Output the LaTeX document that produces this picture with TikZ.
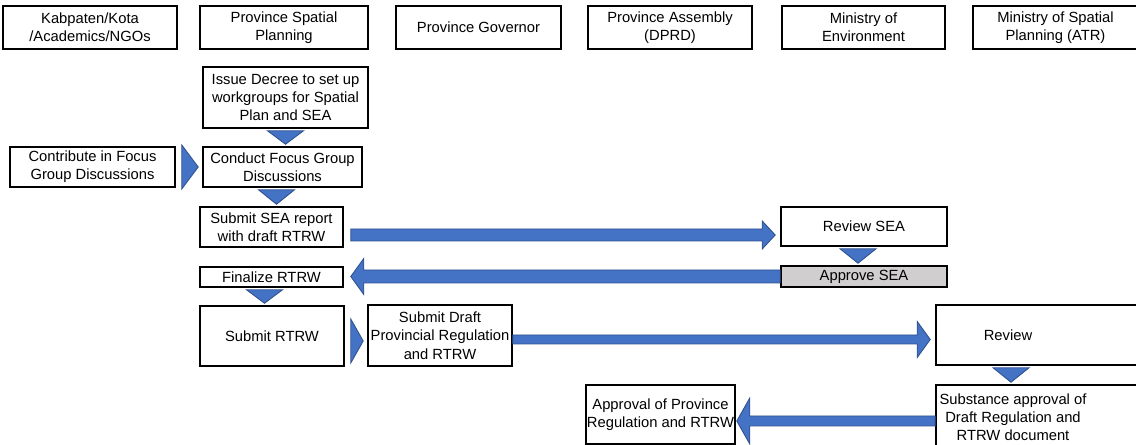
\documentclass[tikz,border=0pt]{standalone}
\usepackage{fontspec}
\setmainfont{Liberation Sans}
\usetikzlibrary{calc}
\definecolor{arrowblue}{HTML}{4472C4}
\definecolor{arrowedge}{HTML}{2F528F}
\definecolor{approvegray}{HTML}{D0CECE}
\newcommand\boxfont{\fontsize{8.4}{10.4}\selectfont}

% horizontal block arrow: tail, tip, half shaft, half head
\newcommand\blockarrow[4]{%
  \filldraw[blockarr] let \p1=(#1), \p2=(#2), \n1={sign(\x2-\x1)} in
    (\x1,\y1-#3) -- (\x2-\n1*0.26cm,\y1-#3) -- (\x2-\n1*0.26cm,\y1-#4)
    -- (\x2,\y1) -- (\x2-\n1*0.26cm,\y1+#4) -- (\x2-\n1*0.26cm,\y1+#3)
    -- (\x1,\y1+#3) -- cycle;}
% small triangles between two stacked / side-by-side boxes
\newcommand\downchev[2]{%
  \filldraw[chev] let \p1=(#1), \p2=(#2) in
    (\x1-0.36cm,\y1-0.04cm) -- (\x1+0.36cm,\y1-0.04cm) -- (\x1,\y2+0.04cm) -- cycle;}
\newcommand\rightchev[2]{%
  \filldraw[chev] let \p1=(#1), \p2=(#2) in
    (\x1+0.12cm,\y1+0.44cm) -- (\x1+0.12cm,\y1-0.44cm) -- (\x2-0.08cm,\y1) -- cycle;}

\begin{document}
\begin{tikzpicture}[x=0.02cm, y=-0.02cm,
  lane/.style    ={draw, line width=0.9pt, minimum width=3.3cm,
                   minimum height=0.86cm, inner sep=0pt,
                   align=center, font=\boxfont},
  stepbox/.style ={draw, line width=0.9pt, inner sep=0pt,
                   align=center, font=\boxfont},
  blockarr/.style={fill=arrowblue, draw=arrowedge, line width=0.5pt},
  chev/.style    ={fill=arrowblue, draw=arrowedge, line width=0.5pt}
]
  \useasboundingbox (0,0) rectangle (1136,445);

  % lanes
  \node[lane, minimum width=3.48cm] (kab) at (90,27.5)    {Kabpaten/Kota\\/Academics/NGOs};
  \node[lane, minimum width=3.36cm] (psp) at (284,27.5)   {Province Spatial\\Planning};
  \node[lane]                       (gov) at (478.5,27.5) {Province Governor};
  \node[lane, minimum width=3.28cm] (dprd) at (670,27.5)  {Province Assembly\\(DPRD)};
  \node[lane, minimum width=3.26cm] (moe) at (863.5,27.5) {Ministry of\\Environment};
  \node[lane]                       (atr) at (1055.5,27.5){Ministry of Spatial\\Planning (ATR)};

  % steps
  \node[stepbox, minimum width=3.3cm, minimum height=1.22cm] (decree) at (285.5,97.5)
    {Issue Decree to set up\\workgroups for Spatial\\Plan and SEA};
  \node[stepbox, minimum width=3.3cm, minimum height=0.8cm] (contrib) at (92.5,167)
    {Contribute in Focus\\Group Discussions};
  \node[stepbox, minimum width=3.18cm, minimum height=0.8cm] (fgd) at (282.5,167)
    {Conduct Focus Group\\Discussions};
  \node[stepbox, minimum width=2.86cm, minimum height=0.8cm] (submitsea) at (271.5,227)
    {Submit SEA report\\with draft RTRW};
  \node[stepbox, minimum width=3.32cm, minimum height=0.78cm] (reviewsea) at (864,226.5)
    {Review SEA};
  \node[stepbox, fill=approvegray, minimum width=3.32cm, minimum height=0.42cm] (approvesea) at (864,276.5)
    {Approve SEA};
  \node[stepbox, minimum width=2.86cm, minimum height=0.4cm] (finalize) at (271.5,277)
    {Finalize RTRW};
  \node[stepbox, minimum width=2.88cm, minimum height=1.2cm] (submitrtrw) at (272,336)
    {Submit RTRW};
  \node[stepbox, minimum width=2.88cm, minimum height=1.22cm] (submitdraft) at (440,335.5)
    {Submit Draft\\Provincial Regulation\\and RTRW};
  \node[stepbox, minimum width=4.28cm, minimum height=1.2cm,
        label={[font=\boxfont, xshift=-0.7cm]center:Review}] (review) at (1043,335) {};
  \node[stepbox, minimum width=4.28cm, minimum height=1.28cm,
        label={[font=\boxfont, align=center, xshift=-0.6cm]center:Substance approval of\\Draft Regulation and\\RTRW document}]
        (substance) at (1043,417) {};
  \node[stepbox, minimum width=2.98cm, minimum height=1.18cm] (approval) at (660.5,414.5)
    {Approval of Province\\Regulation and RTRW};

  % flow
  \downchev{decree.south}{fgd.north}
  \rightchev{contrib.east}{fgd.west}
  \downchev{[xshift=-0.12cm]fgd.south}{submitsea.north}
  \blockarrow{[shift={(7,8)}]submitsea.east}{[shift={(-5,8)}]reviewsea.west}{0.12cm}{0.28cm}
  \downchev{[xshift=-0.12cm]reviewsea.south}{approvesea.north}
  \blockarrow{approvesea.west}{[xshift=0.14cm]finalize.east}{0.13cm}{0.36cm}
  \downchev{[xshift=-0.14cm]finalize.south}{submitrtrw.north}
  \rightchev{[yshift=-0.1cm]submitrtrw.east}{submitdraft.west}
  \blockarrow{[yshift=-0.08cm]submitdraft.east}{[xshift=-0.1cm]review.west}{0.09cm}{0.36cm}
  \downchev{[xshift=-0.64cm]review.south}{substance.north}
  \blockarrow{[yshift=-0.08cm]substance.west}{[xshift=0.02cm]approval.east}{0.1cm}{0.46cm}
\end{tikzpicture}
\end{document}
